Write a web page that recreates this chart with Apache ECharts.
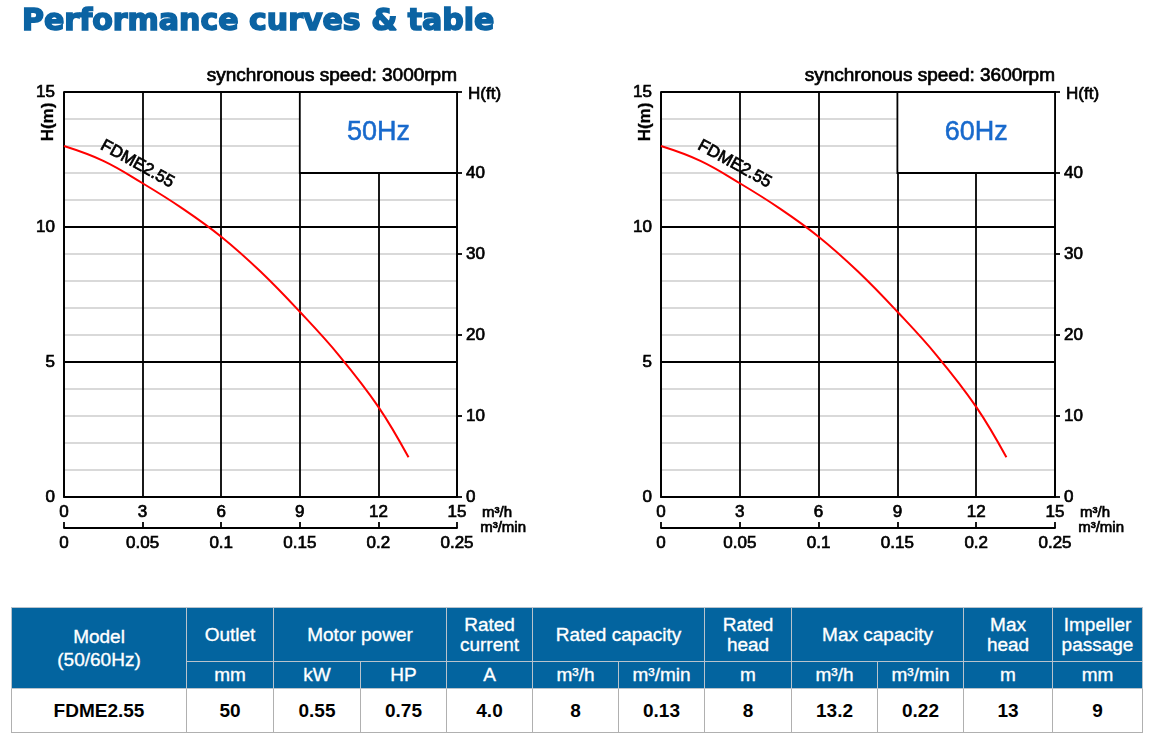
<!DOCTYPE html>
<html>
<head>
<meta charset="utf-8">
<script src="https://cdn.jsdelivr.net/npm/echarts@6/dist/echarts.min.js"></script>
<style>
  html, body { margin: 0; padding: 0; background: #fff; }
  body { width: 1157px; height: 743px; position: relative; overflow: hidden; font-family: "Liberation Sans", Arial, sans-serif; }
  #chart { position: absolute; left: 0; top: 0; width: 1157px; height: 600px; }
  #spec { position: absolute; left: 11px; top: 607px; border-collapse: collapse; table-layout: fixed; width: 1131px; }
  #spec th, #spec td { padding: 0; text-align: center; vertical-align: middle; font-size: 19px; line-height: 20px; }
  #spec th { background: #03649f; color: #fff; font-weight: normal; border: 1.5px solid #b9c3cc; -webkit-text-stroke: 0.35px #fff; }
  #spec td { background: #fff; color: #000; font-weight: bold; border: 1.5px solid #b0b0b0; }
  #spec tr.h1 { height: 54px; }
  #spec tr.h2 { height: 27px; }
  #spec tr.d { height: 44px; }
  #spec th.model { line-height: 23px; }
</style>
</head>
<body>
<div id="chart"></div>
<table id="spec"></table>
<script>
// ---------------- data ----------------
const pageTitle = 'Performance curves & table';
const modelName = 'FDME2.55';

// 50 Hz curve (flow m³/h, head m)
const flow50 = [0, 1.5, 3, 4.5, 6, 7.5, 9, 10.5, 12, 13.15];
const head50 = [13.0, 12.45, 11.62, 10.7, 9.64, 8.35, 6.86, 5.24, 3.34, 1.47];
// 60 Hz curve (flow m³/h, head m)
const flow60 = [0, 1.5, 3, 4.5, 6, 7.5, 9, 10.5, 12, 13.15];
const head60 = [13.0, 12.45, 11.62, 10.7, 9.64, 8.35, 6.86, 5.24, 3.34, 1.47];

const speedLabels = ['synchronous speed: 3000rpm', 'synchronous speed: 3600rpm'];
const freqLabels = ['50Hz', '60Hz'];

// axis ranges
const flowHRange = [0, 15, 3];        // m³/h
const flowMinRange = [0, 0.25, 0.05]; // m³/min
const headMRange = [0, 15, 5];        // m
const headFtRange = [0, 50, 10];      // ft

// frequency box (data coords) and curve label anchor
const boxFlow = [9, 15];
const boxHead = [12, 15];
const curveLabelAt = [2.8, 12.33];

// table
const headTop = [
  { t: 'Model<br>(50/60Hz)', rs: 2, cls: 'model' },
  { t: 'Outlet' },
  { t: 'Motor power', cs: 2 },
  { t: 'Rated<br>current' },
  { t: 'Rated capacity', cs: 2 },
  { t: 'Rated<br>head' },
  { t: 'Max capacity', cs: 2 },
  { t: 'Max<br>head' },
  { t: 'Impeller<br>passage' }
];
const headUnits = ['mm', 'kW', 'HP', 'A', 'm³/h', 'm³/min', 'm', 'm³/h', 'm³/min', 'm', 'mm'];
const rowValues = ['FDME2.55', '50', '0.55', '0.75', '4.0', '8', '0.13', '8', '13.2', '0.22', '13', '9'];
const colWidths = [175, 87, 87, 86, 86, 86, 86, 87, 86, 86, 89, 90];

// ---------------- table ----------------
(function buildTable() {
  const tbl = document.getElementById('spec');
  let html = '<colgroup>' + colWidths.map(w => '<col style="width:' + w + 'px">').join('') + '</colgroup>';
  html += '<tr class="h1">' + headTop.map(h =>
    '<th' + (h.rs ? ' rowspan="' + h.rs + '"' : '') + (h.cs ? ' colspan="' + h.cs + '"' : '') +
    (h.cls ? ' class="' + h.cls + '"' : '') + '>' + h.t + '</th>').join('') + '</tr>';
  html += '<tr class="h2">' + headUnits.map(u => '<th>' + u + '</th>').join('') + '</tr>';
  html += '<tr class="d">' + rowValues.map(v => '<td>' + v + '</td>').join('') + '</tr>';
  tbl.innerHTML = html;
})();

// ---------------- chart ----------------
const FONT = '"Liberation Sans", Arial, sans-serif';
const BLACK = '#000';
const GRID_GRAY = '#d9d9d9';
const LW = 1.8;
const HEAVY = { textBorderColor: '#000', textBorderWidth: 0.7 };

function pairs(xs, ys) { return xs.map((x, i) => [x, ys[i]]); }

function lbl(extra) {
  return Object.assign({ fontSize: 17, color: BLACK, fontFamily: FONT }, HEAVY, extra || {});
}

function xAxesFor(gi) {
  return [
    {
      gridIndex: gi, type: 'value', position: 'bottom',
      min: flowHRange[0], max: flowHRange[1], interval: flowHRange[2],
      axisLine: { show: true, onZero: false, lineStyle: { color: BLACK, width: LW } },
      axisTick: { show: false },
      axisLabel: lbl({ margin: 7 }),
      splitLine: { show: true, lineStyle: { color: BLACK, width: LW } },
      name: 'm³/h', nameLocation: 'end', nameGap: 22,
      nameTextStyle: lbl({ fontSize: 15, verticalAlign: 'top', padding: [8, 0, 0, 0] })
    },
    {
      gridIndex: gi, type: 'value', position: 'bottom', offset: 31,
      min: flowMinRange[0], max: flowMinRange[1], interval: flowMinRange[2],
      axisLine: { show: true, onZero: false, lineStyle: { color: BLACK, width: LW } },
      axisTick: { show: true, inside: true, length: 6, lineStyle: { color: BLACK, width: LW } },
      axisLabel: lbl({ margin: 7, formatter: v => String(+(+v).toFixed(2)) }),
      splitLine: { show: false },
      name: 'm³/min', nameLocation: 'end', nameGap: 14,
      nameTextStyle: lbl({ fontSize: 15, verticalAlign: 'middle' })
    }
  ];
}

function yAxesFor(gi) {
  return [
    {
      gridIndex: gi, type: 'value', position: 'left',
      min: headMRange[0], max: headMRange[1], interval: headMRange[2],
      axisLine: { show: true, onZero: false, lineStyle: { color: BLACK, width: LW } },
      axisTick: { show: false },
      axisLabel: lbl({ margin: 9 }),
      splitLine: { show: true, lineStyle: { color: BLACK, width: LW } },
      minorTick: { show: false, splitNumber: 5 },
      minorSplitLine: { show: true, lineStyle: { color: GRID_GRAY, width: 1.8 } }
    },
    {
      gridIndex: gi, type: 'value', position: 'right',
      min: headFtRange[0], max: headFtRange[1], interval: headFtRange[2],
      axisLine: { show: true, onZero: false, lineStyle: { color: BLACK, width: LW } },
      axisTick: { show: true, inside: false, length: 5, lineStyle: { color: BLACK, width: LW } },
      axisLabel: lbl({ margin: 9, formatter: v => (v === headFtRange[1] ? '' : String(v)) }),
      splitLine: { show: false }
    }
  ];
}

function curveSeries(gi, xs, ys, freq) {
  return {
    type: 'line', name: modelName,
    xAxisIndex: gi * 2, yAxisIndex: gi * 2,
    data: pairs(xs, ys),
    smooth: 0.4, showSymbol: false, symbol: 'none',
    lineStyle: { color: '#ff0000', width: 2 },
    z: 5,
    silent: true,
    markArea: {
      silent: true,
      itemStyle: { color: '#ffffff', borderColor: BLACK, borderWidth: LW },
      label: { show: true, position: 'inside', fontSize: 27, color: '#1769cc', fontFamily: FONT,
               textBorderColor: '#1769cc', textBorderWidth: 0.5 },
      data: [[{ name: freq, coord: [boxFlow[0], boxHead[0]] }, { coord: [boxFlow[1], boxHead[1]] }]]
    },
    markPoint: {
      silent: true,
      symbol: 'circle', symbolSize: 0,
      label: Object.assign({ show: true, position: 'inside', formatter: modelName, rotate: -29 },
                           lbl({ fontSize: 17 })),
      data: [{ coord: curveLabelAt }]
    }
  };
}

const grids = [
  { left: 64, top: 92, width: 393, height: 405 },
  { left: 661, top: 92, width: 394, height: 405 }
];

function txt(x, y, text, opts) {
  return Object.assign({
    type: 'text', x: x, y: y, silent: true,
    style: Object.assign({ text: text, fill: BLACK, font: '17px ' + FONT, align: 'left', verticalAlign: 'middle',
                           stroke: BLACK, lineWidth: 0.7 }, (opts && opts.style) || {})
  }, (opts && opts.el) || {});
}

const option = {
  animation: false,
  backgroundColor: '#fff',
  title: [{
    text: pageTitle, left: 17, top: 2,
    textStyle: { fontFamily: '"DejaVu Sans", sans-serif', fontWeight: 'bold', fontSize: 30, color: '#0b63a3',
                 textBorderColor: '#0b63a3', textBorderWidth: 1.6 }
  }],
  grid: grids,
  xAxis: xAxesFor(0).concat(xAxesFor(1)),
  yAxis: yAxesFor(0).concat(yAxesFor(1)),
  series: [
    curveSeries(0, flow50, head50, freqLabels[0]),
    curveSeries(1, flow60, head60, freqLabels[1])
  ],
  graphic: [
    txt(48, 122, 'H(m)', { el: { rotation: Math.PI / 2 }, style: { align: 'center', font: 'bold 17px ' + FONT, lineWidth: 0.3 } }),
    txt(645, 122, 'H(m)', { el: { rotation: Math.PI / 2 }, style: { align: 'center', font: 'bold 17px ' + FONT, lineWidth: 0.3 } }),
    txt(468, 94, 'H(ft)'),
    txt(1066, 94, 'H(ft)'),
    txt(457, 76, speedLabels[0], { style: { align: 'right', font: '19px ' + FONT } }),
    txt(1055, 76, speedLabels[1], { style: { align: 'right', font: '19px ' + FONT } })
  ]
};

const chart = echarts.init(document.getElementById('chart'), null, { renderer: 'canvas' });
chart.setOption(option);
</script>
</body>
</html>
